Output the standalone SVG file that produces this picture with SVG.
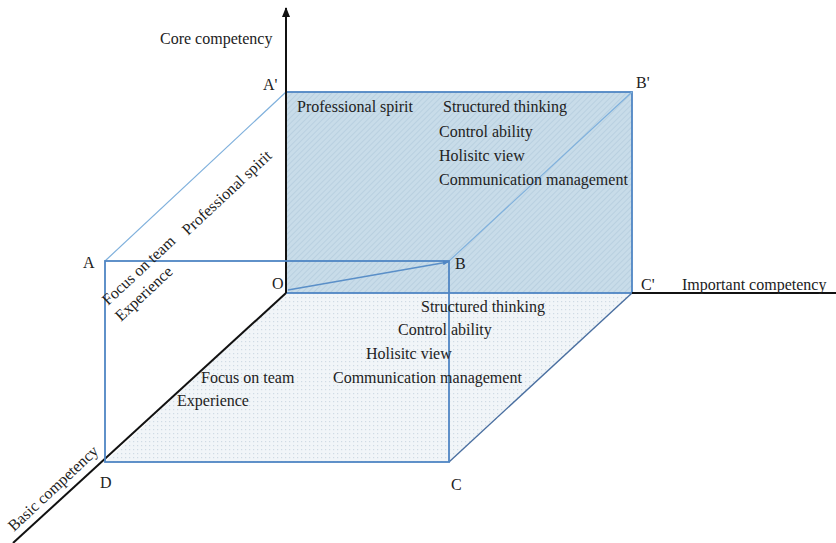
<svg xmlns="http://www.w3.org/2000/svg" width="836" height="543" viewBox="0 0 836 543">
<style>
text{font-family:"Liberation Serif","Times New Roman",serif;font-size:16px;fill:#222}
.edge{stroke:#4f86c4;stroke-width:1.8}
.thin{fill:none;stroke:#7fb0dc;stroke-width:1.2}
.axis{fill:none;stroke:#111;stroke-width:2}
</style>
<defs>
<pattern id="hatch" width="4" height="4" patternUnits="userSpaceOnUse" patternTransform="rotate(45)">
<rect width="4" height="4" fill="#c8dce9"/>
<line x1="0" y1="0" x2="0" y2="4" stroke="#b0c9da" stroke-width="1.2"/>
</pattern>
<pattern id="dots" width="4" height="4" patternUnits="userSpaceOnUse">
<rect width="4" height="4" fill="#f1f5f8"/>
<rect x="1" y="1" width="1.2" height="1.2" fill="#cfdbe4"/>
</pattern>
<marker id="arr" markerWidth="10" markerHeight="10" refX="9" refY="5" orient="auto" markerUnits="userSpaceOnUse">
<path d="M0,1 L10,5 L0,9 z" fill="#111"/>
</marker>
<marker id="arrs" markerWidth="6" markerHeight="6" refX="5" refY="3" orient="auto" markerUnits="userSpaceOnUse">
<path d="M0,0.5 L6,3 L0,5.5 z" fill="#4f86c4"/>
</marker>
</defs>

<g id="bottom-face">
<polygon points="286,293 632,293 449,462 105,462" fill="url(#dots)"/>
</g>
<g id="back-face">
<rect x="286" y="92" width="346" height="201" fill="url(#hatch)" class="edge"/>
</g>

<g id="connectors">
<line x1="105" y1="261" x2="286" y2="92" class="thin"/>
<line x1="449" y1="261" x2="632" y2="92" class="thin"/>
<line x1="449" y1="462" x2="632" y2="293" stroke="#4a6fa0" stroke-width="1.4"/>
<line x1="288" y1="290" x2="448" y2="262" stroke="#5a8fc8" stroke-width="1.3" marker-end="url(#arrs)"/>
<line x1="286" y1="293" x2="286" y2="8" class="axis" marker-end="url(#arr)"/>
<line x1="632" y1="293" x2="836" y2="293" class="axis" stroke-width="1.6"/>
<line x1="286" y1="293" x2="13" y2="543" class="axis" stroke-width="2.4"/>
</g>

<g id="front-face">
<rect x="105" y="261" width="344" height="201" class="edge" fill="none"/>
</g>

<g id="axis-labels">
<text x="160" y="44">Core competency</text>
<text x="682" y="290">Important competency</text>
<text transform="translate(14,532) rotate(-43)">Basic competency</text>
</g>

<g id="vertex-labels">
<text x="263" y="90">A'</text>
<text x="636" y="88">B'</text>
<text x="83" y="268">A</text>
<text x="272" y="289">O</text>
<text x="455" y="269">B</text>
<text x="641" y="290">C'</text>
<text x="100" y="488">D</text>
<text x="451" y="490">C</text>
</g>

<g id="back-face-labels">
<text x="297" y="112">Professional spirit</text>
<text x="443" y="112">Structured thinking</text>
<text x="439" y="137">Control ability</text>
<text x="439" y="161">Holisitc view</text>
<text x="439" y="185">Communication management</text>
</g>

<g id="left-face-labels">
<text transform="translate(108,306) rotate(-43)">Focus on team</text>
<text transform="translate(121,322) rotate(-43)">Experience</text>
<text transform="translate(188,236) rotate(-43)">Professional spirit</text>
</g>

<g id="bottom-face-labels">
<text x="421" y="312">Structured thinking</text>
<text x="398" y="335">Control ability</text>
<text x="366" y="359">Holisitc view</text>
<text x="333" y="383">Communication management</text>
<text x="201" y="383">Focus on team</text>
<text x="177" y="406">Experience</text>
</g>
</svg>
